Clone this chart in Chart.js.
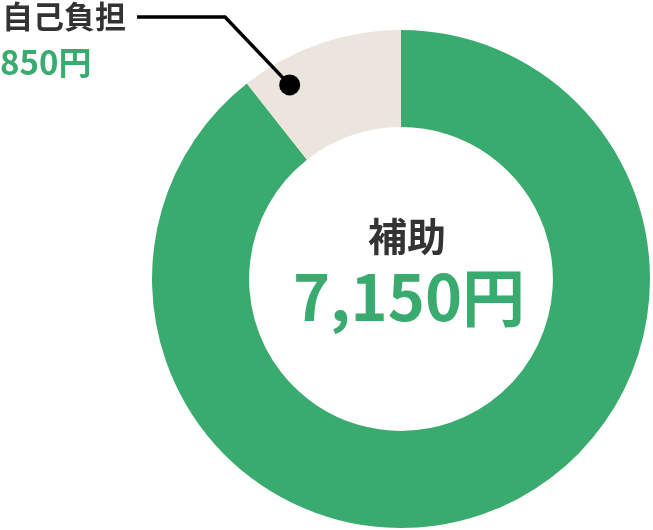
<!DOCTYPE html>
<html><head><meta charset="utf-8">
<script src="https://cdn.jsdelivr.net/npm/chart.js@4"></script>
<style>
html,body{margin:0;padding:0;background:#fff;}
#wrap{width:653px;height:530px;position:relative;}
</style></head>
<body><div id="wrap"><canvas id="c" width="653" height="530"></canvas></div>
<script>
const categories = ["補助", "自己負担"];
const values = [7150, 850];
const valueLabels = ["7,150円", "850円"];
const colors = ["#3aab6f", "#ece5dd"];
const GREEN = "#3aab6f";
const DARK = "#333333";
const FONT = '"Noto Sans CJK JP", "Noto Sans", sans-serif';

const labelPlugin = {
  id: 'labels',
  afterDraw(chart) {
    const ctx = chart.ctx;
    const meta = chart.getDatasetMeta(0);
    const center = meta.data[0];
    const cx = center.x, cy = center.y;
    ctx.save();
    ctx.textAlign = 'center';
    ctx.textBaseline = 'alphabetic';
    ctx.fillStyle = DARK;
    ctx.font = '700 39px ' + FONT;
    ctx.fillText(categories[0], cx + 6, cy - 28);
    ctx.fillStyle = GREEN;
    ctx.font = '700 63px ' + FONT;
    ctx.fillText(valueLabels[0], cx + 8, cy + 42);

    // self-pay label
    const arc = meta.data[1];
    const a = arc.startAngle + (arc.endAngle - arc.startAngle) * 0.22;
    const r = arc.innerRadius + (arc.outerRadius - arc.innerRadius) * 0.74;
    const px = arc.x + r * Math.cos(a), py = arc.y + r * Math.sin(a);
    ctx.textAlign = 'left';
    ctx.fillStyle = DARK;
    ctx.font = '700 31px ' + FONT;
    ctx.fillText(categories[1], 2, 28);
    ctx.fillStyle = GREEN;
    ctx.font = '700 33px ' + FONT;
    ctx.fillText(valueLabels[1], 0, 75);

    ctx.strokeStyle = '#000';
    ctx.lineWidth = 3.5;
    ctx.beginPath();
    ctx.moveTo(137, 17);
    ctx.lineTo(225, 17);
    ctx.lineTo(px, py);
    ctx.stroke();
    ctx.fillStyle = '#000';
    ctx.beginPath();
    ctx.arc(px, py, 10.5, 0, Math.PI * 2);
    ctx.fill();
    ctx.restore();
  }
};

new Chart(document.getElementById('c'), {
  type: 'doughnut',
  data: {
    labels: categories,
    datasets: [{ data: values, backgroundColor: colors, borderWidth: 0, hoverOffset: 0 }]
  },
  options: {
    responsive: false,
    animation: false,
    cutout: '61%',
    layout: { padding: { left: 152, right: 3, top: 30, bottom: 2 } },
    plugins: { legend: { display: false }, tooltip: { enabled: false } },
    events: []
  },
  plugins: [labelPlugin]
});
</script></body></html>
